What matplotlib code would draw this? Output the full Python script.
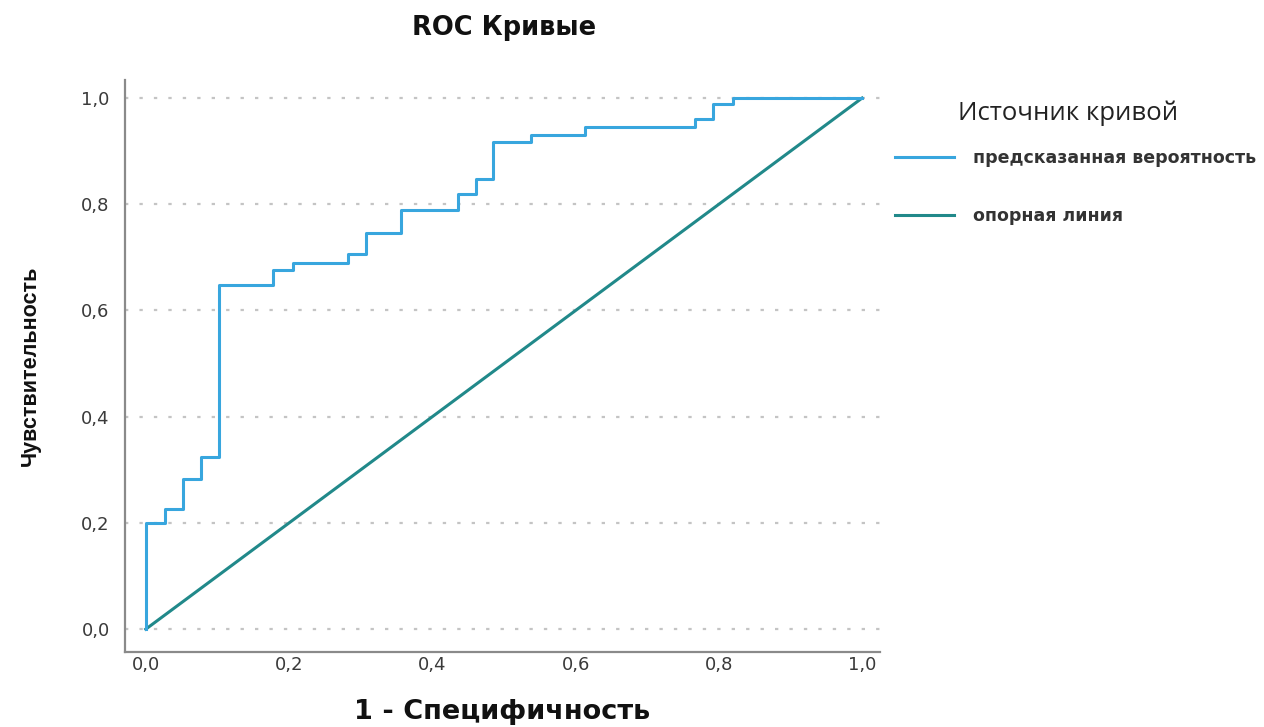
import matplotlib
matplotlib.use("Agg")
import matplotlib.pyplot as plt

# ROC curve corners (1 - specificity, sensitivity)
fpr = [0.0, 0.0, 0.027, 0.027, 0.052, 0.052, 0.077, 0.077, 0.102, 0.102,
       0.178, 0.178, 0.205, 0.205, 0.282, 0.282, 0.307, 0.307, 0.357, 0.357,
       0.436, 0.436, 0.461, 0.461, 0.485, 0.485, 0.538, 0.538, 0.613, 0.613,
       0.767, 0.767, 0.792, 0.792, 0.820, 0.820, 1.0]
tpr = [0.0, 0.200, 0.200, 0.227, 0.227, 0.282, 0.282, 0.325, 0.325, 0.648,
       0.648, 0.676, 0.676, 0.690, 0.690, 0.706, 0.706, 0.746, 0.746, 0.789,
       0.789, 0.820, 0.820, 0.848, 0.848, 0.918, 0.918, 0.930, 0.930, 0.946,
       0.946, 0.960, 0.960, 0.989, 0.989, 1.0, 1.0]
ref_x = [0.0, 1.0]
ref_y = [0.0, 1.0]
ticks = [0.0, 0.2, 0.4, 0.6, 0.8, 1.0]
tick_labels = ["0,0", "0,2", "0,4", "0,6", "0,8", "1,0"]

plt.rcParams['font.family'] = ['DejaVu Sans']

W, H = 1264, 727
fig = plt.figure(figsize=(W / 100, H / 100), dpi=100)
# axes box: left spine at 125 px, bottom spine at 652 px
ax = fig.add_axes([125 / W, 1 - 652 / H, 755 / W, 572 / H])

ax.plot(fpr, tpr, color="#38a6de", lw=2.2, label="предсказанная вероятность", zorder=3)
ax.plot(ref_x, ref_y, color="#21898a", lw=2.2, label="опорная линия", zorder=2)

ax.set_xlim(-0.029, 1.025)
ax.set_ylim(-0.043, 1.034)
ax.set_xticks(ticks)
ax.set_xticklabels(tick_labels)
ax.set_yticks(ticks)
ax.set_yticklabels(tick_labels)
ax.tick_params(length=0, labelsize=13, colors="#3a3a3a")
ax.tick_params(axis='x', pad=3)
ax.tick_params(axis='y', pad=11)

# dotted horizontal grid
ax.yaxis.grid(True, linestyle=(0, (1.5, 5)), color="#c4c4c4", lw=1.6)
ax.set_axisbelow(True)

for s in ["top", "right"]:
    ax.spines[s].set_visible(False)
for s in ["left", "bottom"]:
    ax.spines[s].set_color("#8a8a8a")
    ax.spines[s].set_linewidth(1.6)

# title and axis labels
fig.text(504 / W, 1 - 28 / H, "ROC Кривые", fontsize=18.5, fontweight="bold",
         ha="center", va="center", color="#111111")
ax.set_xlabel("1 - Специфичность", fontsize=19.5, fontweight="bold", color="#111111")
ax.xaxis.set_label_coords(0.5, -60 / 572)
ax.xaxis.label.set_verticalalignment("center")
ax.set_ylabel("Чувствительность", fontsize=15.5, fontweight="bold",
              family="Liberation Sans", color="#111111")
ax.yaxis.set_label_coords(-84 / 755, 0.5)

# legend
fig.text(958 / W, 1 - 113 / H, "Источник кривой", fontsize=18.5,
         family="Open Sans", ha="left", va="center", color="#222222")
leg = fig.legend(*ax.get_legend_handles_labels(), loc="upper left",
                 bbox_to_anchor=(895 / W, 1 - 149 / H), frameon=False,
                 prop={'size': 12.5, 'weight': 'bold'}, borderpad=0, borderaxespad=0,
                 handlelength=3.4, handletextpad=1.1, labelspacing=2.3)
for t in leg.get_texts():
    t.set_color("#333333")

fig.savefig("out.png", dpi=100)
